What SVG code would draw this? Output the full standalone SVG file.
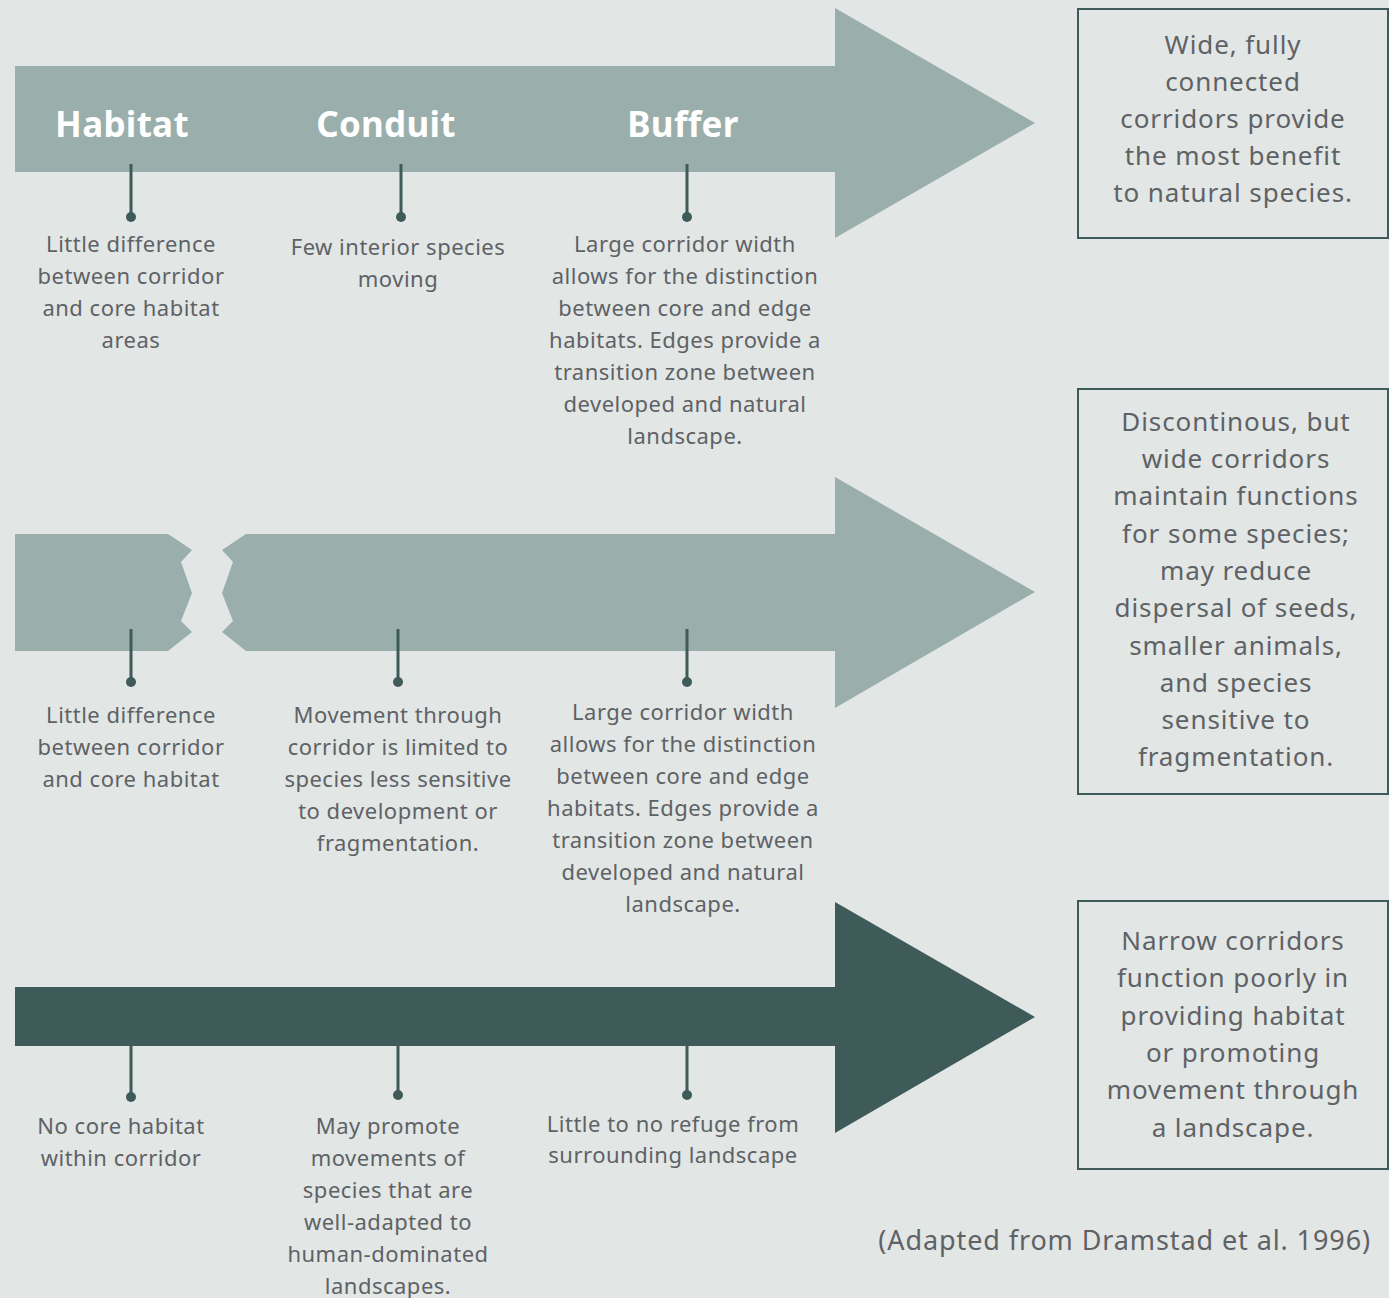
<svg xmlns="http://www.w3.org/2000/svg" width="1389" height="1298" viewBox="0 0 1389 1298">
<style>
.bg{fill:#e2e6e5}
.light{fill:#9aaeab}
.dark{fill:#3e5b59}
.box{fill:none;stroke:#3e5b59;stroke-width:2}
.conn line{stroke:#3e5b59;stroke-width:3}
.conn circle{fill:#3e5b59}
.t{font-family:"Noto Sans","Open Sans",sans-serif;font-size:22px;letter-spacing:0.5px;fill:#5e6265;text-anchor:middle}
.b{font-family:"Noto Sans","Open Sans",sans-serif;font-size:26px;letter-spacing:0.9px;fill:#5e6265;text-anchor:middle}
.h{font-family:"Noto Sans","Open Sans",sans-serif;font-size:35px;font-weight:bold;letter-spacing:0.3px;fill:#ffffff;text-anchor:middle}
</style>
<rect class="bg" x="0" y="0" width="1389" height="1298"/>

<g id="arrow-wide">
<polygon class="light" points="15,66 835,66 835,8 1035,123 835,238 835,172 15,172"/>
<text class="h" x="122" y="137">Habitat</text>
<text class="h" x="386" y="137">Conduit</text>
<text class="h" x="683" y="137">Buffer</text>
</g>

<g id="arrow-broken">
<polygon class="light" points="15,534 168,534 192,550 181,562 192,593 181,621 192,632 168,651 15,651"/>
<polygon class="light" points="246,534 835,534 835,477 1035,592 835,708 835,651 246,651 222,632 233,621 222,593 233,562 222,550"/>
</g>

<g id="arrow-narrow">
<polygon class="dark" points="15,987 835,987 835,902 1035,1017 835,1133 835,1046 15,1046"/>
</g>

<g id="connectors" class="conn">
<line x1="131" y1="164" x2="131" y2="217"/><circle cx="131" cy="217" r="5"/>
<line x1="401" y1="164" x2="401" y2="217"/><circle cx="401" cy="217" r="5"/>
<line x1="687" y1="164" x2="687" y2="217"/><circle cx="687" cy="217" r="5"/>
<line x1="131" y1="629" x2="131" y2="682"/><circle cx="131" cy="682" r="5"/>
<line x1="398" y1="629" x2="398" y2="682"/><circle cx="398" cy="682" r="5"/>
<line x1="687" y1="629" x2="687" y2="682"/><circle cx="687" cy="682" r="5"/>
<line x1="131" y1="1046" x2="131" y2="1097"/><circle cx="131" cy="1097" r="5"/>
<line x1="398" y1="1046" x2="398" y2="1095"/><circle cx="398" cy="1095" r="5"/>
<line x1="687" y1="1046" x2="687" y2="1095"/><circle cx="687" cy="1095" r="5"/>
</g>

<g id="label-habitat-1">
<text class="t" x="131" y="252">Little difference</text>
<text class="t" x="131" y="284">between corridor</text>
<text class="t" x="131" y="316">and core habitat</text>
<text class="t" x="131" y="348">areas</text>
</g>
<g id="label-conduit-1">
<text class="t" x="398" y="255">Few interior species</text>
<text class="t" x="398" y="287">moving</text>
</g>
<g id="label-buffer-1">
<text class="t" x="685" y="252">Large corridor width</text>
<text class="t" x="685" y="284">allows for the distinction</text>
<text class="t" x="685" y="316">between core and edge</text>
<text class="t" x="685" y="348">habitats. Edges provide a</text>
<text class="t" x="685" y="380">transition zone between</text>
<text class="t" x="685" y="412">developed and natural</text>
<text class="t" x="685" y="444">landscape.</text>
</g>

<g id="label-habitat-2">
<text class="t" x="131" y="723">Little difference</text>
<text class="t" x="131" y="755">between corridor</text>
<text class="t" x="131" y="787">and core habitat</text>
</g>
<g id="label-conduit-2">
<text class="t" x="398" y="723">Movement through</text>
<text class="t" x="398" y="755">corridor is limited to</text>
<text class="t" x="398" y="787">species less sensitive</text>
<text class="t" x="398" y="819">to development or</text>
<text class="t" x="398" y="851">fragmentation.</text>
</g>
<g id="label-buffer-2">
<text class="t" x="683" y="720">Large corridor width</text>
<text class="t" x="683" y="752">allows for the distinction</text>
<text class="t" x="683" y="784">between core and edge</text>
<text class="t" x="683" y="816">habitats. Edges provide a</text>
<text class="t" x="683" y="848">transition zone between</text>
<text class="t" x="683" y="880">developed and natural</text>
<text class="t" x="683" y="912">landscape.</text>
</g>

<g id="label-habitat-3">
<text class="t" x="121" y="1134">No core habitat</text>
<text class="t" x="121" y="1166">within corridor</text>
</g>
<g id="label-conduit-3">
<text class="t" x="388" y="1134">May promote</text>
<text class="t" x="388" y="1166">movements of</text>
<text class="t" x="388" y="1198">species that are</text>
<text class="t" x="388" y="1230">well-adapted to</text>
<text class="t" x="388" y="1262">human-dominated</text>
<text class="t" x="388" y="1294">landscapes.</text>
</g>
<g id="label-buffer-3">
<text class="t" x="673" y="1132">Little to no refuge from</text>
<text class="t" x="673" y="1163">surrounding landscape</text>
</g>

<g id="box-wide">
<rect class="box" x="1078" y="9" width="310" height="229"/>
<text class="b" x="1233" y="54">Wide, fully</text>
<text class="b" x="1233" y="91">connected</text>
<text class="b" x="1233" y="128">corridors provide</text>
<text class="b" x="1233" y="165">the most benefit</text>
<text class="b" x="1233" y="202">to natural species.</text>
</g>
<g id="box-broken">
<rect class="box" x="1078" y="389" width="310" height="405"/>
<text class="b" x="1236" y="431">Discontinous, but</text>
<text class="b" x="1236" y="468">wide corridors</text>
<text class="b" x="1236" y="505">maintain functions</text>
<text class="b" x="1236" y="543">for some species;</text>
<text class="b" x="1236" y="580">may reduce</text>
<text class="b" x="1236" y="617">dispersal of seeds,</text>
<text class="b" x="1236" y="655">smaller animals,</text>
<text class="b" x="1236" y="692">and species</text>
<text class="b" x="1236" y="729">sensitive to</text>
<text class="b" x="1236" y="766">fragmentation.</text>
</g>
<g id="box-narrow">
<rect class="box" x="1078" y="901" width="310" height="268"/>
<text class="b" x="1233" y="950">Narrow corridors</text>
<text class="b" x="1233" y="987">function poorly in</text>
<text class="b" x="1233" y="1025">providing habitat</text>
<text class="b" x="1233" y="1062">or promoting</text>
<text class="b" x="1233" y="1099">movement through</text>
<text class="b" x="1233" y="1137">a landscape.</text>
</g>

<text class="b" x="1371" y="1250" style="text-anchor:end;font-size:27px">(Adapted from Dramstad et al. 1996)</text>
</svg>
